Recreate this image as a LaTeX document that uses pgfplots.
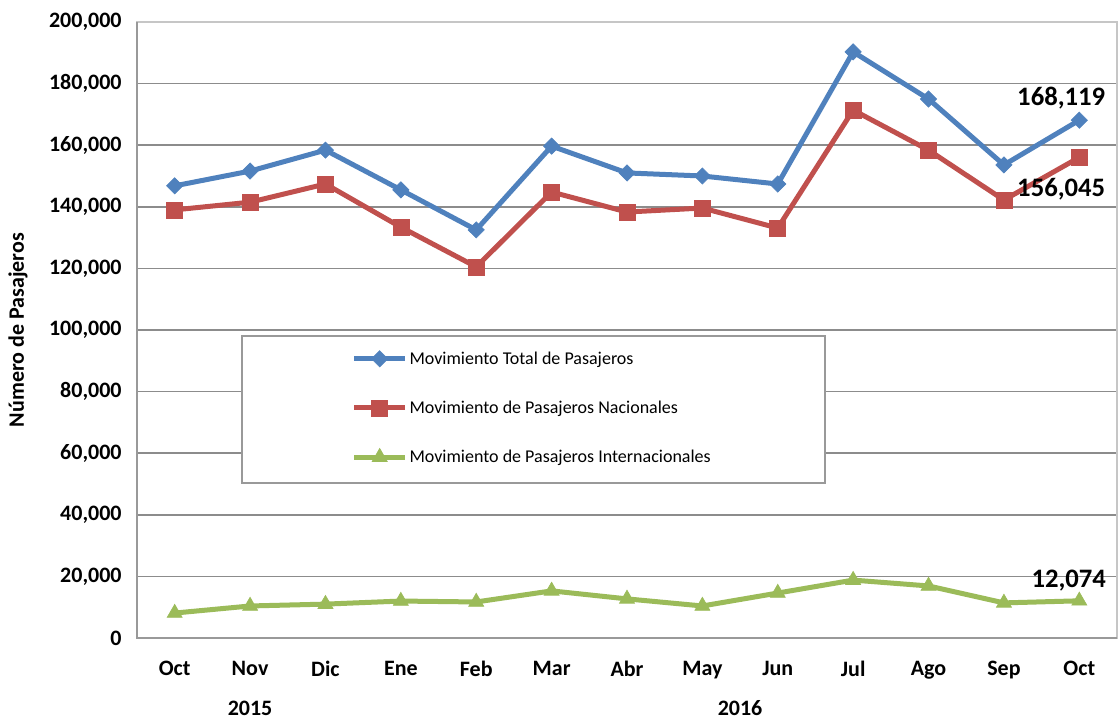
\documentclass[border=0pt]{standalone}
\usepackage{pgfplots}
\pgfplotsset{compat=1.18}
\usepackage{fontspec}
\setmainfont{Carlito}
\definecolor{cblue}{HTML}{4F81BD}
\definecolor{cred}{HTML}{C0504D}
\definecolor{cgreen}{HTML}{9BBB59}
\definecolor{cgrid}{HTML}{8C8C8C}
\begin{document}
\begin{tikzpicture}
\useasboundingbox (-102.75pt,-60.75pt) rectangle (735.75pt,478.5pt);
\begin{axis}[
  at={(0,0)}, anchor=south west,
  scale only axis, width=735pt, height=462pt,
  xmin=-0.5, xmax=12.5, ymin=0, ymax=200000,
  xtick={0,...,12},
  xticklabels={Oct,Nov,Dic,Ene,Feb,Mar,Abr,May,Jun,Jul,Ago,Sep,Oct},
  ytick={0,20000,...,200000},
  scaled y ticks=false,
  yticklabel={\pgfmathprintnumber[fixed, precision=0, 1000 sep={,}, assume math mode=true]{\tick}},
  ymajorgrids, grid style={cgrid, line width=1.2pt},
  axis line style={gray!45, line width=1pt},
  major tick length=0pt,
  tick label style={font=\fontsize{16.5}{19}\selectfont\bfseries},
  yticklabel style={xshift=-8pt},
  xticklabel style={yshift=-14pt},
  ylabel={Número de Pasajeros},
  every axis y label/.style={at={(axis description cs:-0.1214,0.5)}, rotate=90, anchor=center, font=\fontsize{16.5}{19}\selectfont\bfseries},
  clip=false,
  legend cell align=left,
  legend style={draw=none, fill=none, inner sep=0pt, at={(axis description cs:0.2190,0.3734)}, anchor=west, row sep=22pt, font=\fontsize{13.5}{16}\selectfont, nodes={inner xsep=1.5pt}},
  legend image code/.code={\draw[mark repeat=2,mark phase=2,#1] plot coordinates {(0pt,0pt) (19pt,0pt) (38pt,0pt)};},
  legend image post style={mark size=2.5pt},
]
\draw[fill=white, draw=gray!80, line width=1pt] (axis description cs:0.1071,0.2516) rectangle (axis description cs:0.702,0.490);
\draw[gray!80, line width=1.3pt] (axis description cs:0,1) -- (axis description cs:0,0) -- (axis description cs:1,0);
\addplot[cblue, line width=3.75pt, mark=square*, mark options={solid, rotate=45, line width=0.5pt, mark size=4.3pt}] coordinates {
(0,146800) (1,151600) (2,158400) (3,145500) (4,132500) (5,159700) (6,151000) (7,150000) (8,147400) (9,190300) (10,175000) (11,153600) (12,168119)};
\addlegendentry{Movimiento Total de Pasajeros}
\addplot[cred, line width=3.75pt, mark=square*, mark options={solid, line width=0.5pt, mark size=6pt}] coordinates {
(0,139000) (1,141500) (2,147400) (3,133400) (4,120500) (5,144800) (6,138300) (7,139600) (8,133100) (9,171400) (10,158400) (11,142200) (12,156045)};
\addlegendentry{Movimiento de Pasajeros Nacionales}
\addplot[cgreen, line width=3.75pt, mark=triangle*, mark options={solid, line width=0.5pt, mark size=6.5pt}] coordinates {
(0,8100) (1,10400) (2,11000) (3,12000) (4,11700) (5,15300) (6,12700) (7,10400) (8,14600) (9,18800) (10,16900) (11,11400) (12,12074)};
\addlegendentry{Movimiento de Pasajeros Internacionales}
\node[font=\fontsize{20}{24}\selectfont\bfseries] at (axis cs:11.76,175300) {168,119};
\node[font=\fontsize{20}{24}\selectfont\bfseries] at (axis cs:11.76,145800) {156,045};
\node[font=\fontsize{20}{24}\selectfont\bfseries] at (axis cs:11.86,18500) {12,074};
\node[font=\fontsize{16.5}{19}\selectfont\bfseries] at (axis cs:1,0) [yshift=-52.5pt] {2015};
\node[font=\fontsize{16.5}{19}\selectfont\bfseries] at (axis cs:7.5,0) [yshift=-52.5pt] {2016};
\end{axis}
\end{tikzpicture}
\end{document}
